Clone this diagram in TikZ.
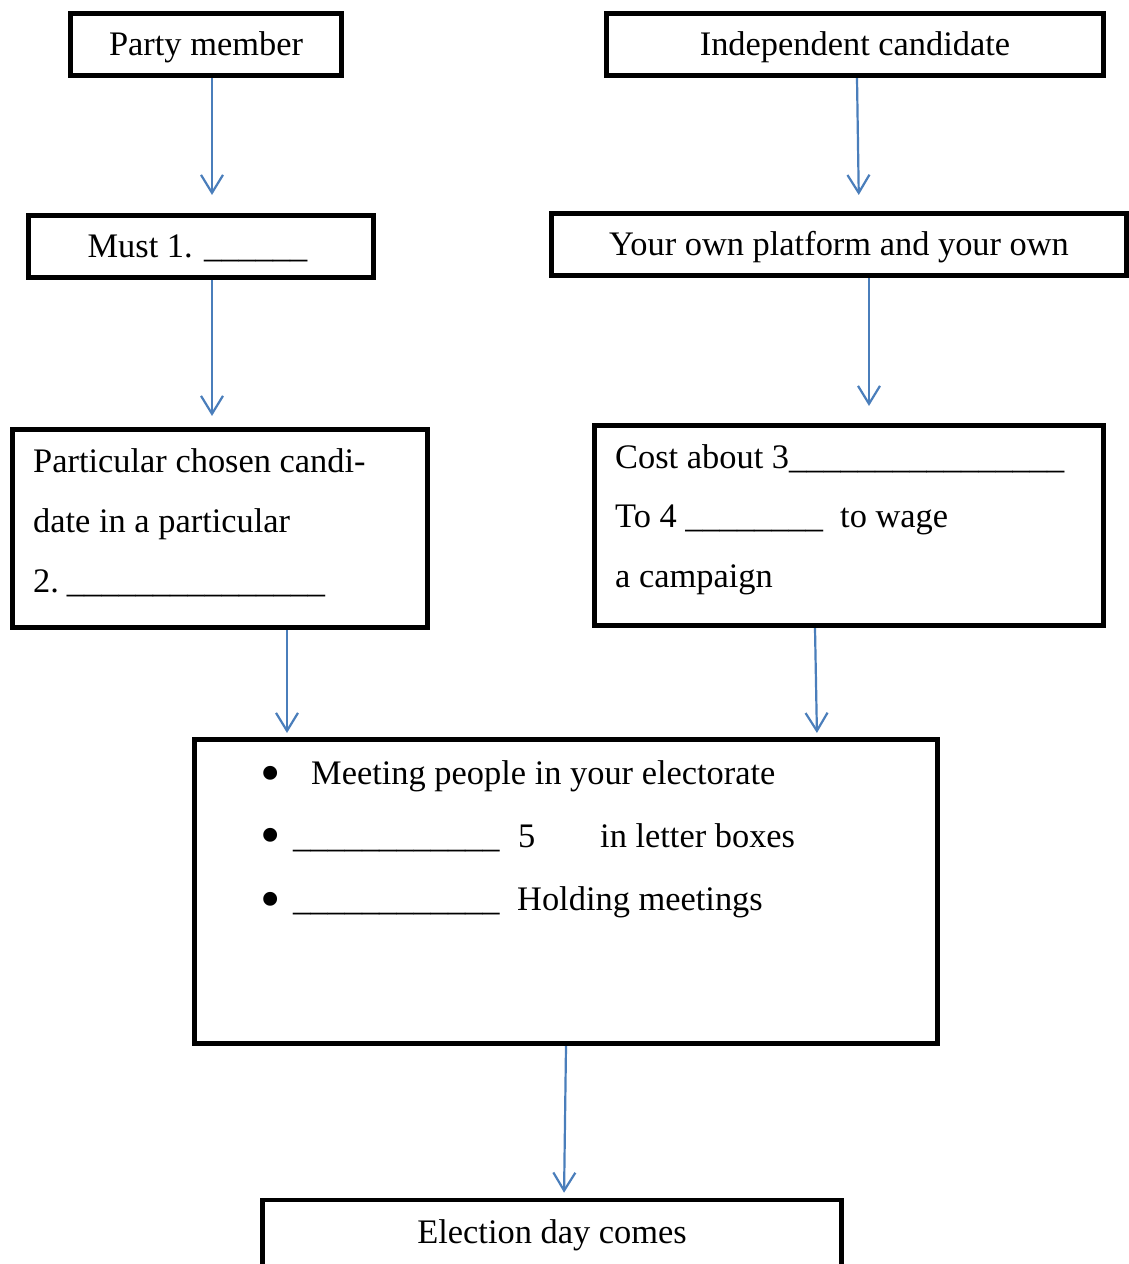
\documentclass[tikz,border=0pt]{standalone}
\usepackage{fontspec}
\setmainfont{Liberation Serif}
\usetikzlibrary{arrows.meta}
\definecolor{arrblue}{RGB}{74,126,187}
\begin{document}
\begin{tikzpicture}[x=1pt,y=-1pt,
  box/.style={draw=black,line width=4.6pt,rectangle,inner sep=0pt,font=\fontsize{34.4}{40}\selectfont},
  lowtext/.style={text height=32.7pt,text depth=10.7pt},
  txt/.style={anchor=base west,inner sep=0pt,font=\fontsize{34.4}{40}\selectfont},
  bul/.style={anchor=base,inner sep=0pt,font=\fontsize{58}{60}\selectfont},
  arr/.style={draw=arrblue,line width=2.2pt,-{Straight Barb[length=18pt,width=22pt]}}]
\useasboundingbox (0,0) rectangle (1129,1264);
\fill[white] (0,0) rectangle (1129,1264);
% boxes
\node[box,lowtext,minimum width=271.5pt,minimum height=62.5pt] (b1) at (206,44.5) {Party member};
\node[box,lowtext,minimum width=497.5pt,minimum height=62.5pt] (b2) at (855,44.5) {Independent candidate};
\node[box,lowtext,minimum width=345.5pt,minimum height=62.5pt] (b3) at (201,246.5) {Must 1. \_\_\_\_\_\_\hspace*{7pt}};
\node[box,lowtext,minimum width=575pt,minimum height=62.5pt] (b4) at (839,244.5) {Your own platform and your own};
\node[box,minimum width=415.5pt,minimum height=198.5pt] (b5) at (220,528.5) {};
\node[box,minimum width=509.5pt,minimum height=200.5pt] (b6) at (849,525.5) {};
\node[box,minimum width=743.5pt,minimum height=304.5pt] (b7) at (566,891.5) {};
\node[box,minimum width=579.5pt,minimum height=70pt] (b8) at (552,1235) {Election day comes};
% texts in box 5
\node[txt] (t5a) at (33,472) {Particular chosen candi-};
\node[txt] (t5b) at (33,532) {date in a particular};
\node[txt] (t5c) at (33,592) {2.\hspace{8pt}\_\_\_\_\_\_\_\_\_\_\_\_\_\_\_};
% texts in box 6
\node[txt] (t6a) at (615,468) {Cost about 3\_\_\_\_\_\_\_\_\_\_\_\_\_\_\_\_};
\node[txt] (t6b) at (615,527) {To 4 \_\_\_\_\_\_\_\_\hspace{8.6pt} to wage};
\node[txt] (t6c) at (615,587) {a campaign};
% texts in box 7
\node[bul] (d1) at (270.5,792.5) {\textbullet};
\node[bul] (d2) at (270.5,854.5) {\textbullet};
\node[bul] (d3) at (270.5,918.5) {\textbullet};
\node[txt] (t7a) at (311,784) {Meeting people in your electorate};
\node[txt] (t7b) at (293,847) {\_\_\_\_\_\_\_\_\_\_\_\_};
\node[txt] (t7c) at (518,847) {5};
\node[txt] (t7d) at (600,847) {in letter boxes};
\node[txt] (t7e) at (293,910) {\_\_\_\_\_\_\_\_\_\_\_\_};
\node[txt] (t7f) at (517,910) {Holding meetings};
% x positions for connectors
\coordinate (x1) at (212,0);
\coordinate (x2a) at (857,0);
\coordinate (x2b) at (859,0);
\coordinate (x3) at (212,0);
\coordinate (x4) at (869,0);
\coordinate (x5) at (287,0);
\coordinate (x6a) at (815,0);
\coordinate (x6b) at (817,0);
\coordinate (x7a) at (566,0);
\coordinate (x7b) at (564,0);
% connectors
\draw[arr,shorten >=18pt] (b1.south -| x1) -- (b3.north -| x1);
\draw[arr,shorten >=16pt] (b2.south -| x2a) -- (b4.north -| x2b);
\draw[arr,shorten >=11pt] (b3.south -| x3) -- (b5.north -| x3);
\draw[arr,shorten >=17pt] (b4.south -| x4) -- (b6.north -| x4);
\draw[arr,shorten >=4pt] (b5.south -| x5) -- (b7.north -| x5);
\draw[arr,shorten >=4pt] (b6.south -| x6a) -- (b7.north -| x6b);
\draw[arr,shorten >=5pt] (b7.south -| x7a) -- (b8.north -| x7b);
\end{tikzpicture}
\end{document}
